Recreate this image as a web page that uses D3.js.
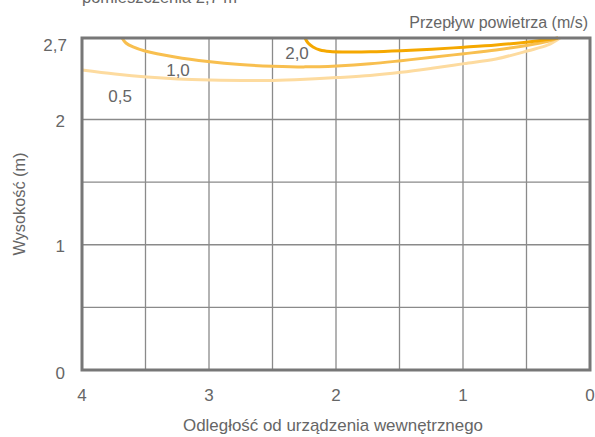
<!DOCTYPE html>
<html><head><meta charset="utf-8">
<script src="https://cdn.jsdelivr.net/npm/d3@7"></script>
<style>
html,body{margin:0;padding:0;background:#fff;}
svg text{font-family:"Liberation Sans","Roboto",sans-serif;fill:#666;}
</style></head>
<body>
<svg id="chart" width="595" height="437"></svg>
<script>
// Distance from indoor unit (m) -> height (m) for each air speed
const speedLabels = ["0,5", "1,0", "2,0"];
const colors = ["#fddb9f", "#f8bf4f", "#f5a800"];
const curve05 = [[4.0,2.425],[3.74,2.391],[3.488,2.365],[3.244,2.348],[2.992,2.339],[2.74,2.335],[2.496,2.335],[2.244,2.345],[1.992,2.36],[1.732,2.378],[1.488,2.405],[1.244,2.44],[0.992,2.48],[0.74,2.52],[0.488,2.59],[0.331,2.64],[0.236,2.70]];
const curve10 = [[3.685,2.70],[3.654,2.657],[3.598,2.623],[3.504,2.588],[3.268,2.537],[3.008,2.498],[2.756,2.472],[2.496,2.458],[2.244,2.452],[1.992,2.46],[1.732,2.478],[1.488,2.505],[1.244,2.535],[0.992,2.565],[0.74,2.597],[0.488,2.638],[0.331,2.672],[0.252,2.70]];
const curve20 = [[2.244,2.70],[2.220,2.657],[2.181,2.623],[2.126,2.597],[2.047,2.584],[1.929,2.580],[1.732,2.581],[1.488,2.59],[1.244,2.604],[0.992,2.621],[0.74,2.64],[0.488,2.665],[0.354,2.684],[0.252,2.70]];
const curves = [curve05, curve10, curve20];
const labelPos = [[3.70,2.202],[3.244,2.425],[2.307,2.575]];
const xTicks = [4,3,2,1,0];
const xGrid = [3.5,3,2.5,2,1.5,1,0.5];
const yTicks = [0,1,2,2.7];
const yGrid = [0.5,1,1.5,2];
const fmt = d => String(d).replace(".", ",");

const svg = d3.select("#chart");
const x = d3.scaleLinear().domain([4,0]).range([82,590]);
const y = d3.scaleLinear().domain([0,2,2.7]).range([370,119.5,38]);

// grid
svg.append("g").selectAll("line").data(xGrid).join("line")
  .attr("x1",d=>x(d)).attr("x2",d=>x(d)).attr("y1",y(0)).attr("y2",y(2.7))
  .attr("stroke","#8a8a8a").attr("stroke-width",1.3);
svg.append("g").selectAll("line").data(yGrid).join("line")
  .attr("x1",x(4)).attr("x2",x(0)).attr("y1",d=>y(d)).attr("y2",d=>y(d))
  .attr("stroke","#8a8a8a").attr("stroke-width",1.3);

// curves
const line = d3.line().x(d=>x(d[0])).y(d=>y(d[1])).curve(d3.curveCatmullRom);
svg.append("g").selectAll("path").data(curves).join("path")
  .attr("d",line).attr("fill","none")
  .attr("stroke",(d,i)=>colors[i]).attr("stroke-width",3);

// frame
svg.append("rect").attr("x",x(4)).attr("y",y(2.7)).attr("width",x(0)-x(4)).attr("height",y(0)-y(2.7))
  .attr("fill","none").attr("stroke","#777").attr("stroke-width",3);

// curve labels
svg.append("g").selectAll("text").data(labelPos).join("text")
  .attr("x",d=>x(d[0])).attr("y",d=>y(d[1])).attr("dy","0.36em")
  .attr("text-anchor","middle").attr("font-size",17).text((d,i)=>speedLabels[i]);

// axes labels
svg.append("g").selectAll("text").data(yTicks).join("text")
  .attr("x",d=> d===2.7 ? 67 : 65).attr("y",d=>d===2.7 ? 45 : y(d)+ (d===0?3:1)).attr("dy","0.36em")
  .attr("text-anchor","end").attr("font-size",17).text(fmt);
svg.append("g").selectAll("text").data(xTicks).join("text")
  .attr("x",d=>x(d)).attr("y",395).attr("dy","0.36em")
  .attr("text-anchor","middle").attr("font-size",17).text(fmt);

svg.append("text").attr("x",333).attr("y",425).attr("dy","0.36em").attr("text-anchor","middle")
  .attr("font-size",17).attr("textLength",300).attr("lengthAdjust","spacingAndGlyphs")
  .text("Odległość od urządzenia wewnętrznego");
svg.append("text").attr("transform","translate(19,204) rotate(-90)").attr("dy","0.36em").attr("text-anchor","middle")
  .attr("font-size",17).attr("textLength",103).attr("lengthAdjust","spacingAndGlyphs")
  .text("Wysokość (m)");
svg.append("text").attr("x",588).attr("y",22).attr("dy","0.36em").attr("text-anchor","end")
  .attr("font-size",16)
  .text("Przepływ powietrza (m/s)");
svg.append("text").attr("x",82).attr("y",3).attr("font-size",17)
  .attr("textLength",155).attr("lengthAdjust","spacingAndGlyphs")
  .text("pomieszczenia 2,7 m");
</script>
</body></html>
